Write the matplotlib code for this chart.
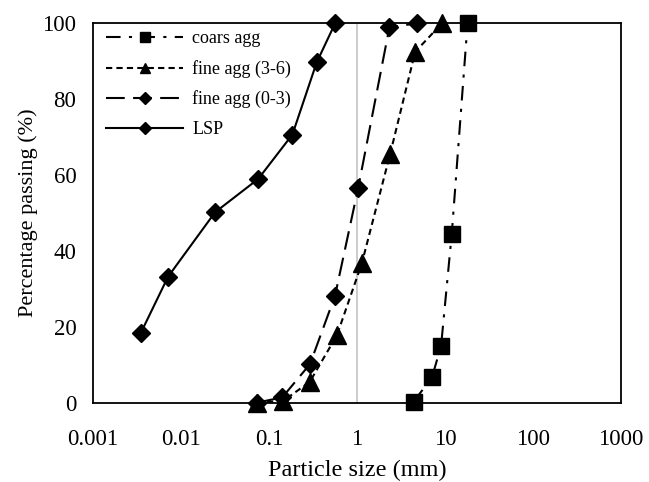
import numpy as np
import matplotlib
matplotlib.use("Agg")
import matplotlib.pyplot as plt
from matplotlib.ticker import FixedLocator, FixedFormatter, NullLocator

plt.rcParams['font.family'] = ['Liberation Serif', 'DejaVu Serif']

# grading curves: particle size (mm) vs percentage passing (%)
coarse_size = [4.4, 7.1, 9.0, 11.9, 18.0]
coarse_pass = [0.3, 6.7, 15.0, 44.5, 100]

fine36_size = [0.072, 0.145, 0.29, 0.59, 1.13, 2.37, 4.57, 9.2]
fine36_pass = [0.0, 0.5, 5.5, 17.8, 36.7, 65.5, 92.5, 100]

fine03_size = [0.072, 0.141, 0.292, 0.561, 1.03, 2.33, 4.78]
fine03_pass = [0.0, 1.4, 10.2, 28.2, 56.7, 99.0, 100]

lsp_size = [0.0035, 0.0071, 0.0243, 0.0753, 0.184, 0.347, 0.562]
lsp_pass = [18.5, 33.2, 50.2, 59.0, 70.7, 89.7, 100]

x_ticks = [0.001, 0.01, 0.1, 1, 10, 100, 1000]
x_tick_labels = ['0.001', '0.01', '0.1', '1', '10', '100', '1000']
y_ticks = [0, 20, 40, 60, 80, 100]

fig = plt.figure(figsize=(6.49, 4.82), dpi=100)
ax = fig.add_axes([0.1435, 0.1645, 0.8135, 0.787])

# reference line at 1 mm
ax.axvline(1.0, color='#c8c8c8', lw=1.3, zorder=1)

style = dict(color='black', lw=1.5, zorder=3, clip_on=False)
ax.plot(coarse_size, coarse_pass, linestyle=(0, (7, 4, 1.5, 4)),
        marker='s', markersize=12, label='coars agg', **style)
ax.plot(fine36_size, fine36_pass, linestyle=(0, (3, 2)),
        marker='^', markersize=13, label='fine agg (3-6)', **style)
ax.plot(fine03_size, fine03_pass, linestyle=(0, (9, 4)),
        marker='D', markersize=9.5, label='fine agg (0-3)', **style)
ax.plot(lsp_size, lsp_pass, linestyle='-',
        marker='D', markersize=9.5, label='LSP', **style)

ax.set_xscale('log')
ax.set_xlim(0.001, 1000)
ax.set_ylim(0, 100)
ax.xaxis.set_major_locator(FixedLocator(x_ticks))
ax.xaxis.set_major_formatter(FixedFormatter(x_tick_labels))
ax.xaxis.set_minor_locator(NullLocator())
ax.set_yticks(y_ticks)

ax.tick_params(axis='both', length=0, labelsize=16.5)
ax.tick_params(axis='x', pad=19)
ax.tick_params(axis='y', pad=12)

for sp in ax.spines.values():
    sp.set_linewidth(1.3)
    sp.set_color('black')
    sp.set_zorder(2)

ax.set_xlabel('Particle size (mm)', fontsize=17.5, labelpad=7)
ax.set_ylabel('Percentage passing (%)', fontsize=16, labelpad=3)

leg = ax.legend(loc='upper left', bbox_to_anchor=(0.0, 1.015), frameon=False,
                fontsize=13, handlelength=4.3, markerscale=0.6,
                labelspacing=0.7, borderaxespad=0.3, handletextpad=0.5)

fig.savefig('out.png', dpi=100)
